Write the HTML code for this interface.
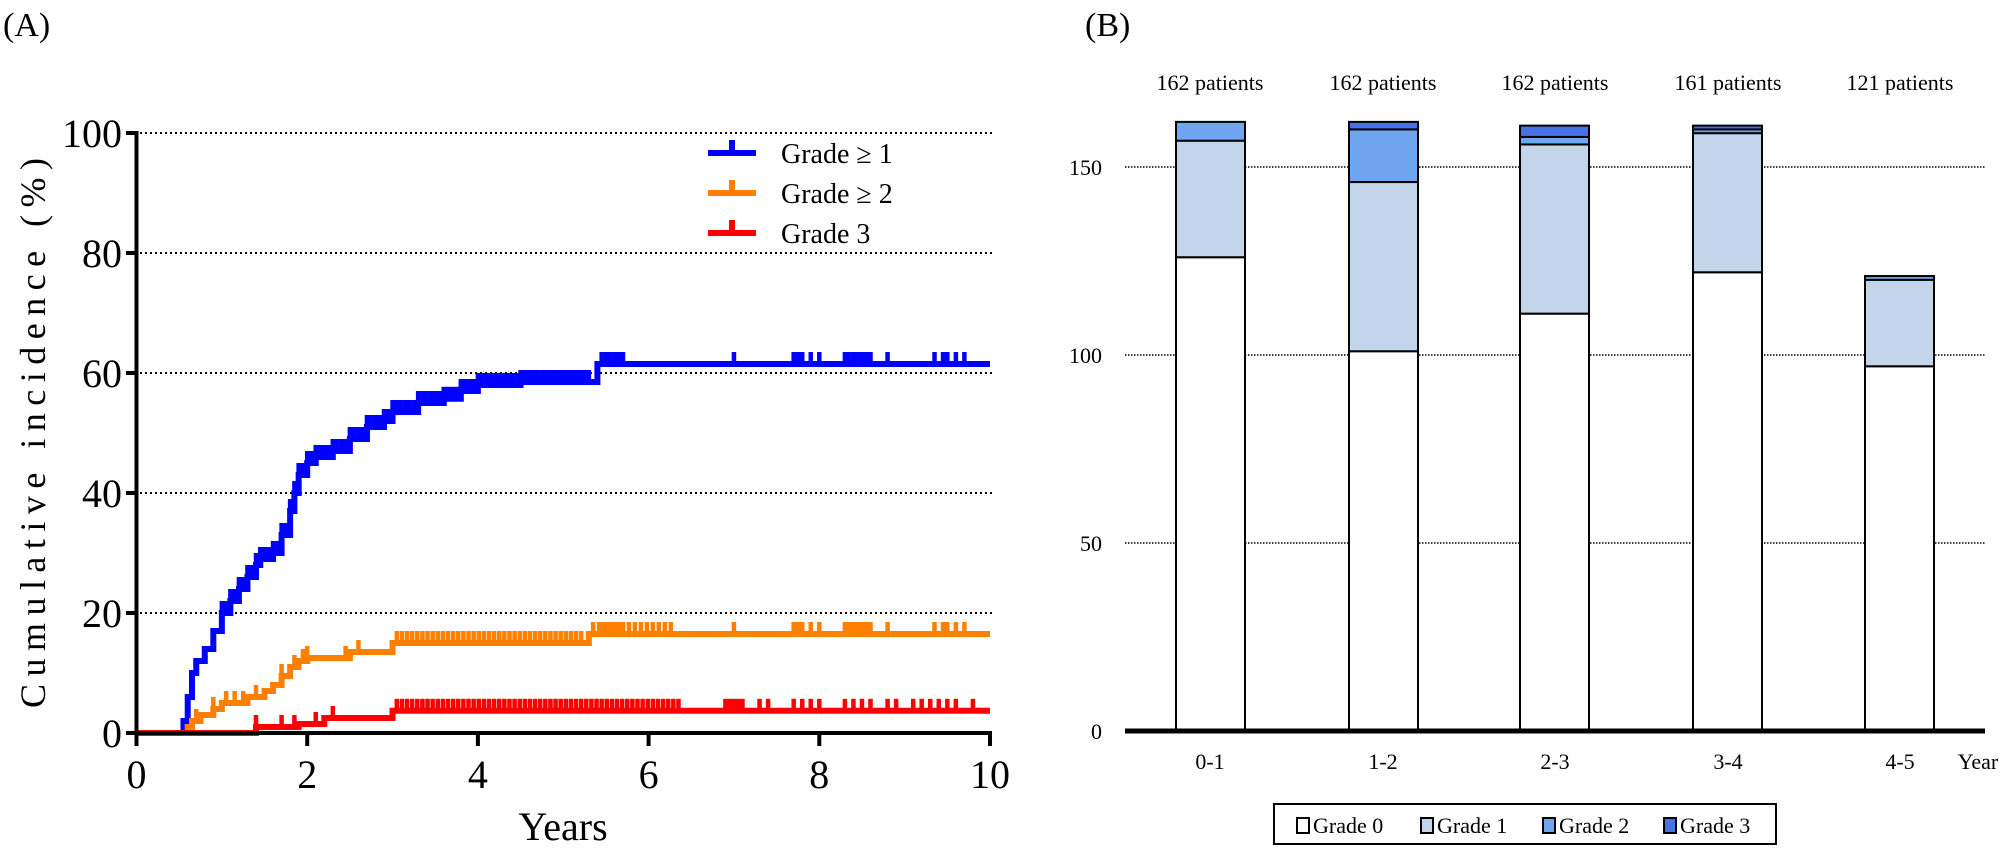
<!DOCTYPE html>
<html><head><meta charset="utf-8"><style>
html,body{margin:0;padding:0;background:#fff;}
svg{display:block;font-family:"Liberation Serif",serif;}
</style></head><body>
<svg id="s" width="2007" height="851" viewBox="0 0 2007 851" xmlns="http://www.w3.org/2000/svg">
<rect width="2007" height="851" fill="#fff"/>
<text x="3" y="36" font-size="34">(A)</text>
<g stroke="#000" stroke-width="2" stroke-dasharray="2,3">
<line x1="140" y1="133" x2="992" y2="133"/>
<line x1="140" y1="253" x2="992" y2="253"/>
<line x1="140" y1="373" x2="992" y2="373"/>
<line x1="140" y1="493" x2="992" y2="493"/>
<line x1="140" y1="613" x2="992" y2="613"/>
</g>
<g id="curves"></g>
<g stroke="#000" stroke-width="4">
<line x1="136.5" y1="131" x2="136.5" y2="735"/>
<line x1="134" y1="733" x2="992" y2="733"/>
<line x1="126" y1="133" x2="136" y2="133"/><line x1="126" y1="253" x2="136" y2="253"/><line x1="126" y1="373" x2="136" y2="373"/><line x1="126" y1="493" x2="136" y2="493"/><line x1="126" y1="613" x2="136" y2="613"/><line x1="126" y1="733" x2="136" y2="733"/>
<line x1="136.5" y1="733" x2="136.5" y2="746"/><line x1="307.2" y1="733" x2="307.2" y2="746"/><line x1="477.9" y1="733" x2="477.9" y2="746"/><line x1="648.6" y1="733" x2="648.6" y2="746"/><line x1="819.3" y1="733" x2="819.3" y2="746"/><line x1="990" y1="733" x2="990" y2="746"/>
</g>
<g font-size="40" text-anchor="end">
<text x="122" y="147">100</text><text x="122" y="267">80</text><text x="122" y="387">60</text><text x="122" y="507">40</text><text x="122" y="627">20</text><text x="122" y="747">0</text>
</g>
<g font-size="40" text-anchor="middle">
<text x="136.5" y="788">0</text><text x="307.2" y="788">2</text><text x="477.9" y="788">4</text><text x="648.6" y="788">6</text><text x="819.3" y="788">8</text><text x="990" y="788">10</text>
<text x="563" y="840">Years</text>
</g>
<text transform="translate(45,433) rotate(-90)" font-size="36" text-anchor="middle" textLength="550" lengthAdjust="spacing">Cumulative incidence  (%)</text>
<g stroke-width="6">
<line x1="708" y1="153" x2="756" y2="153" stroke="#0000ff"/><line x1="732" y1="140" x2="732" y2="153" stroke="#0000ff"/>
<line x1="708" y1="193" x2="756" y2="193" stroke="#ff8000"/><line x1="732" y1="180" x2="732" y2="193" stroke="#ff8000"/>
<line x1="708" y1="233" x2="756" y2="233" stroke="#ff0000"/><line x1="732" y1="220" x2="732" y2="233" stroke="#ff0000"/>
</g>
<g font-size="28"><text x="781" y="163">Grade ≥  1</text><text x="781" y="203">Grade ≥  2</text><text x="781" y="243">Grade 3</text></g>

<text x="1085" y="36" font-size="34">(B)</text>
<g stroke="#000" stroke-width="1.5" stroke-dasharray="1.5,1.5">
<line x1="1125" y1="167" x2="1985" y2="167"/>
<line x1="1125" y1="355" x2="1985" y2="355"/>
<line x1="1125" y1="543" x2="1985" y2="543"/>
</g>
<g id="bars"></g>
<line x1="1125" y1="731" x2="1985" y2="731" stroke="#000" stroke-width="5"/>
<g font-size="22" text-anchor="end">
<text x="1102" y="175">150</text><text x="1102" y="363">100</text><text x="1102" y="551">50</text><text x="1102" y="739">0</text>
</g>
<g font-size="22" text-anchor="middle">
<text x="1210" y="769">0-1</text><text x="1383" y="769">1-2</text><text x="1555" y="769">2-3</text><text x="1728" y="769">3-4</text><text x="1900" y="769">4-5</text>
<text x="1978" y="769">Year</text>
<text x="1210" y="90">162 patients</text><text x="1383" y="90">162 patients</text><text x="1555" y="90">162 patients</text><text x="1728" y="90">161 patients</text><text x="1900" y="90">121 patients</text>
</g>
<rect x="1274" y="804" width="502" height="40" fill="#fff" stroke="#000" stroke-width="2"/>
<g stroke="#000" stroke-width="2">
<rect x="1297" y="818" width="12" height="15" fill="#fff"/>
<rect x="1421" y="818" width="12" height="15" fill="#c3d5ea"/>
<rect x="1543" y="818" width="12" height="15" fill="#70a5f0"/>
<rect x="1664" y="818" width="12" height="15" fill="#4a72e8"/>
</g>
<g font-size="22"><text x="1313" y="833">Grade 0</text><text x="1437" y="833">Grade 1</text><text x="1559" y="833">Grade 2</text><text x="1680" y="833">Grade 3</text></g>
</svg>
<script>
var NS="http://www.w3.org/2000/svg";
function X(t){return 136.5+85.35*t;}
function Y(v){return 733-6*v;}
function curve(pts,color,ticks){
  var g=document.getElementById("curves");
  var d="M"+X(0)+","+Y(0);
  var prev=0;
  for(var i=0;i<pts.length;i++){
    d+=" L"+X(pts[i][0])+","+Y(prev)+" L"+X(pts[i][0])+","+Y(pts[i][1]);
    prev=pts[i][1];
  }
  d+=" L"+X(10)+","+Y(prev);
  var p=document.createElementNS(NS,"path");
  p.setAttribute("d",d);p.setAttribute("fill","none");p.setAttribute("stroke",color);p.setAttribute("stroke-width","6");
  g.appendChild(p);
  function val(t){var v=0;for(var i=0;i<pts.length;i++){if(pts[i][0]<=t)v=pts[i][1];}return v;}
  for(var j=0;j<ticks.length;j++){
    var t=ticks[j],v=val(t);
    var l=document.createElementNS(NS,"line");
    l.setAttribute("x1",X(t));l.setAttribute("x2",X(t));
    l.setAttribute("y1",Y(v));l.setAttribute("y2",Y(v)-12);
    l.setAttribute("stroke",color);l.setAttribute("stroke-width","4.5");
    g.appendChild(l);
  }
}
function rng(a,b,s){var r=[];for(var t=a;t<=b;t+=s)r.push(+t.toFixed(3));return r;}
var late=[5.45,5.5,5.55,5.6,5.65,5.7,7.0,7.7,7.75,7.8,7.9,8.0,8.3,8.35,8.4,8.45,8.5,8.55,8.6,8.8,9.35,9.45,9.5,9.6,9.7];
var blue=[[0.55,2],[0.6,6],[0.65,10],[0.7,12],[0.8,14],[0.9,17],[1.0,20],[1.1,22],[1.2,24],[1.3,26],[1.4,28],[1.45,29],[1.6,30],[1.7,33],[1.8,37],[1.85,40],[1.9,43],[2.0,45],[2.1,46],[2.3,47],[2.5,49],[2.7,51],[2.9,52],[3.0,53.5],[3.3,55],[3.6,55.7],[3.8,57],[4.0,58],[4.5,58.5],[5.4,61.5]];
curve(blue,"#0000ff",rng(1.0,5.3,0.05).concat(late));
var orange=[[0.6,1],[0.65,2],[0.75,3],[0.9,4],[1.0,5],[1.3,6],[1.5,7],[1.6,8],[1.7,9.5],[1.8,11],[1.9,12],[2.0,12.5],[2.5,13.5],[3.0,15],[5.3,16.5]];
curve(orange,"#ff8000",[0.7,0.9,1.05,1.15,1.25,1.4,1.7,1.85,1.95,2.0,2.45,2.6].concat(rng(3.05,5.25,0.06)).concat(rng(5.35,6.3,0.07)).concat(late));
var red=[[1.4,1],[1.9,1.5],[2.2,2.5],[3.0,3.7]];
curve(red,"#ff0000",[1.4,1.7,1.85,2.1,2.3].concat(rng(3.05,6.4,0.06)).concat([6.9,6.95,7.0,7.05,7.1,7.3,7.4,7.7,7.8,7.9,8.0,8.3,8.4,8.5,8.6,8.8,8.9,9.1,9.2,9.3,9.4,9.5,9.6,9.8]));
var BY=function(v){return 731-3.76*v;};
var cols=["#fff","#c3d5ea","#70a5f0","#4a72e8"];
var bars=[[1176,[126,157,162]],[1349,[101,146,160,162]],[1520,[111,156,158,161]],[1693,[122,159,160,161]],[1865,[97,120,121]]];
var bg=document.getElementById("bars");
bars.forEach(function(b){
  var prev=0;
  b[1].forEach(function(v,i){
    var r=document.createElementNS(NS,"rect");
    r.setAttribute("x",b[0]);r.setAttribute("width",69);
    r.setAttribute("y",BY(v));r.setAttribute("height",BY(prev)-BY(v));
    r.setAttribute("fill",cols[i]);r.setAttribute("stroke","#000");r.setAttribute("stroke-width","2");
    bg.appendChild(r);prev=v;
  });
});
</script>
</body></html>
